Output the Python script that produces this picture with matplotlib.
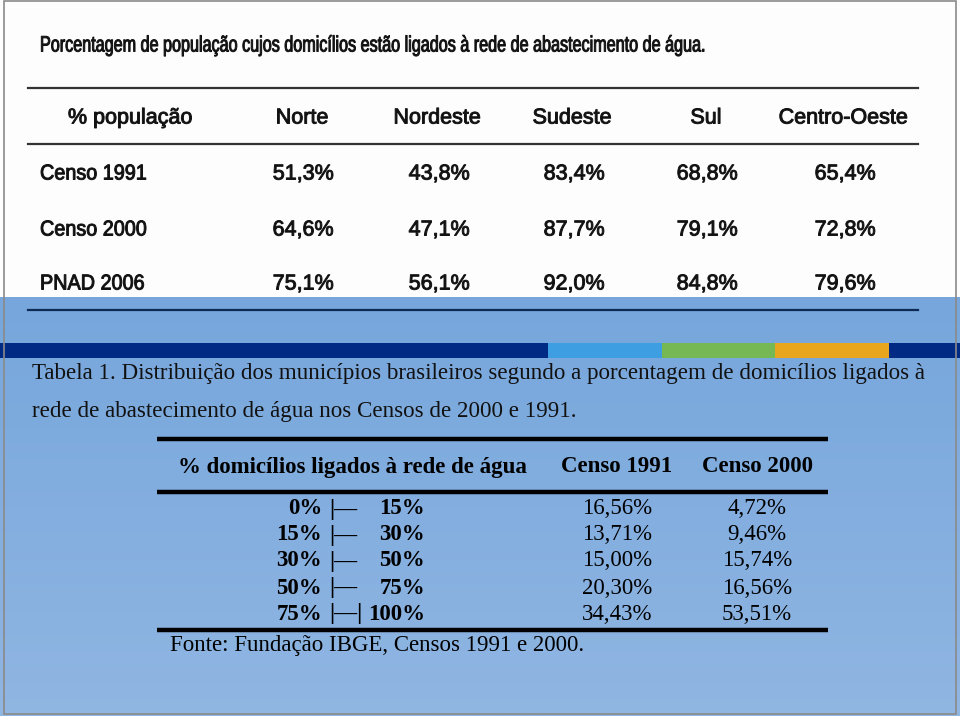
import numpy as np
import matplotlib
matplotlib.use("Agg")
import matplotlib.pyplot as plt
from matplotlib.patches import Rectangle
from matplotlib.patheffects import AbstractPathEffect
from matplotlib.transforms import Affine2D

# ---------------- data ----------------
title_top = "Porcentagem de população cujos domicílios estão ligados à rede de abastecimento de água."
top_header = ["% população", "Norte", "Nordeste", "Sudeste", "Sul", "Centro-Oeste"]
top_rows = ["Censo 1991", "Censo 2000", "PNAD 2006"]
norte = ["51,3%", "64,6%", "75,1%"]
nordeste = ["43,8%", "47,1%", "56,1%"]
sudeste = ["83,4%", "87,7%", "92,0%"]
sul = ["68,8%", "79,1%", "84,8%"]
centro_oeste = ["65,4%", "72,8%", "79,6%"]

caption = ["Tabela 1. Distribuição dos municípios brasileiros segundo a porcentagem de domicílios ligados à",
           "rede de abastecimento de água nos Censos de 2000 e 1991."]
low_header = ["% domicílios ligados à rede de água", "Censo 1991", "Censo 2000"]
range_lo = ["0%", "15%", "30%", "50%", "75%"]
range_sym = ["|—", "|—", "|—", "|—", "|—|"]
range_hi = ["15%", "30%", "50%", "75%", "100%"]
censo1991 = ["16,56%", "13,71%", "15,00%", "20,30%", "34,43%"]
censo2000 = ["4,72%", "9,46%", "15,74%", "16,56%", "53,51%"]
fonte = "Fonte: Fundação IBGE, Censos 1991 e 2000."

stripe_colors = ["#002a84", "#3d9fe2", "#76b853", "#e8a51e", "#002a84"]
stripe_edges = [0, 548, 662, 775, 889, 960]

# ---------------- helpers ----------------
class Condense(AbstractPathEffect):
    """Squeeze text horizontally around an anchor x (display px) and thicken it a little."""
    def __init__(self, sx=1.0, x0=0.0, lw=0.6):
        super().__init__()
        self.sx, self.x0, self.lw = sx, x0, lw

    def draw_path(self, renderer, gc, tpath, affine, rgbFace=None):
        tr = affine + Affine2D().translate(-self.x0, 0).scale(self.sx, 1).translate(self.x0, 0)
        gc0 = renderer.new_gc()
        gc0.copy_properties(gc)
        gc0.set_linewidth(self.lw)
        if rgbFace is not None:
            gc0.set_foreground(rgbFace)
        renderer.draw_path(gc0, tpath, tr, rgbFace)
        gc0.restore()

# ---------------- figure ----------------
W, H = 960, 716
fig = plt.figure(figsize=(W / 100, H / 100), dpi=100)
ax = fig.add_axes([0, 0, 1, 1])

narrow = ["Liberation Sans", "DejaVu Sans"]
serif = ["Liberation Serif", "DejaVu Serif"]

# background: white top, blue gradient bottom
ax.add_patch(Rectangle((0, 0), W, 297, facecolor="#fdfdfd", edgecolor="none", zorder=0))
grad = np.linspace(0, 1, 200).reshape(-1, 1)
c_top = np.array([0x76, 0xa6, 0xdc]) / 255
c_bot = np.array([0x90, 0xb6, 0xe2]) / 255
img = c_top[None, None, :] * (1 - grad[..., None]) + c_bot[None, None, :] * grad[..., None]
ax.imshow(img, extent=(0, W, H, 297), aspect="auto", zorder=0.5)
ax.set_xlim(0, W)
ax.set_ylim(H, 0)
ax.axis("off")

# colour stripe
for i, col in enumerate(stripe_colors):
    ax.add_patch(Rectangle((stripe_edges[i], 343), stripe_edges[i + 1] - stripe_edges[i], 15,
                           facecolor=col, edgecolor="none", zorder=1))

# frame
ax.add_patch(Rectangle((4, 1), W - 8, H - 3, facecolor="none", edgecolor="#8a8a8a", lw=1.2, zorder=5))

ink = "#111111"

def ntext(x, y, s, ha="left", sx=1.0, size=15.5):
    # anchor for the squeeze: left edge or centre (axes x == pixel x here)
    ax.text(x, y, s, fontsize=size, family=narrow, ha=ha, va="center", color=ink,
            path_effects=[Condense(sx=sx, x0=x, lw=0.7)])

# ---------------- top table ----------------
ntext(40, 46, title_top, sx=0.727, size=16)
for y, c in [(88, "#333333"), (144, "#333333"), (310, "#0d2a55")]:
    ax.plot([28, 918], [y, y], color=c, lw=1.6, zorder=2)

hx = [130, 302, 437, 572, 706, 843]
for x, t in zip(hx, top_header):
    ntext(x, 118, t, ha="center")

ry = [174, 230, 284]
cols = [norte, nordeste, sudeste, sul, centro_oeste]
vx = [303, 439, 574, 707, 845]
for i, lab in enumerate(top_rows):
    ntext(40, ry[i], lab, sx=0.92)
    for x, col in zip(vx, cols):
        ntext(x, ry[i], col[i], ha="center")

# ---------------- caption ----------------
ax.text(32, 373, caption[0], fontsize=16.6, family=serif, ha="left", va="center", color=ink)
ax.text(32, 411, caption[1], fontsize=16.6, family=serif, ha="left", va="center", color=ink)

# ---------------- lower table ----------------
for y in [439, 492, 630]:
    ax.plot([157, 828], [y, y], color="black", lw=3.2, zorder=2, solid_capstyle="butt")

fs = 16.5
ax.text(178, 467, low_header[0], fontsize=fs, family=serif, weight="bold", ha="left", va="center")
ax.text(617, 467, low_header[1], fontsize=fs, family=serif, weight="bold", ha="center", va="center")
ax.text(758, 467, low_header[2], fontsize=fs, family=serif, weight="bold", ha="center", va="center")

ly = [509, 535, 561, 588, 614]
for i in range(len(ly)):
    ax.text(322, ly[i], range_lo[i], fontsize=fs, family=serif, weight="bold", ha="right", va="center")
    ax.text(329, ly[i], range_sym[i], fontsize=fs, family=serif, weight="bold", ha="left", va="center")
    ax.text(425, ly[i], range_hi[i], fontsize=fs, family=serif, weight="bold", ha="right", va="center")
    ax.text(617, ly[i], censo1991[i], fontsize=fs, family=serif, ha="center", va="center")
    ax.text(757, ly[i], censo2000[i], fontsize=fs, family=serif, ha="center", va="center")

ax.text(170, 646, fonte, fontsize=fs, family=serif, ha="left", va="center")

fig.savefig("out.png", dpi=100)
